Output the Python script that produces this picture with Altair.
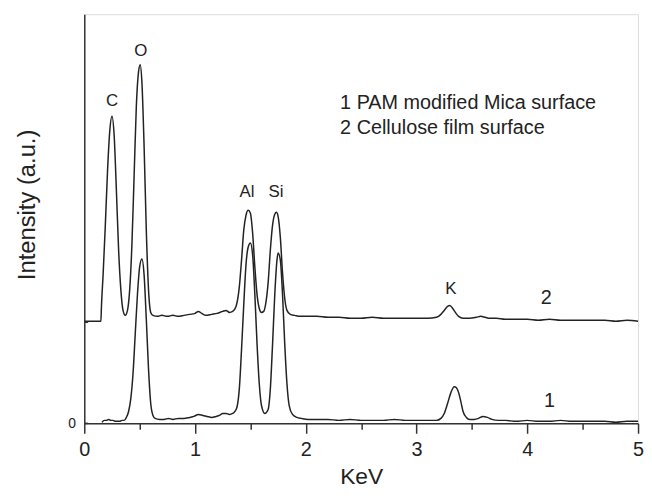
import altair as alt
import pandas as pd

# Spectrum 1: PAM modified Mica surface
kev1 = [0.16, 0.18, 0.20, 0.22, 0.24, 0.26, 0.28, 0.30, 0.32, 0.34, 0.36, 0.38,
        0.40, 0.42, 0.44, 0.46, 0.48, 0.50, 0.52, 0.54, 0.56, 0.58, 0.60, 0.62,
        0.64, 0.68, 0.72, 0.76, 0.80, 0.85, 0.90, 0.95, 0.99, 1.03, 1.07, 1.11,
        1.15, 1.19, 1.22, 1.25, 1.28, 1.31, 1.34, 1.36, 1.38, 1.40, 1.42, 1.44,
        1.46, 1.48, 1.50, 1.52, 1.54, 1.56, 1.58, 1.60, 1.63, 1.66, 1.68, 1.70,
        1.72, 1.74, 1.75, 1.77, 1.79, 1.81, 1.83, 1.85, 1.88, 1.92, 1.96, 2.02,
        2.10, 2.20, 2.30, 2.40, 2.50, 2.60, 2.70, 2.80, 2.90, 3.00, 3.10, 3.18,
        3.22, 3.25, 3.28, 3.31, 3.34, 3.36, 3.38, 3.40, 3.42, 3.45, 3.48, 3.52,
        3.56, 3.60, 3.64, 3.68, 3.74, 3.80, 3.90, 4.00, 4.10, 4.20, 4.30, 4.40,
        4.50, 4.60, 4.70, 4.80, 4.90, 5.00]
int1 = [1, 3, 3, 4, 3, 3, 2, 2, 2, 3, 3, 6,
        12, 25, 50, 90, 130, 158, 166, 150, 105, 55, 20, 8,
        5, 4, 4, 5, 4, 5, 5, 6, 7, 9, 8, 7,
        6, 7, 8, 10, 10, 9, 10, 12, 17, 35, 75, 120,
        160, 178, 182, 170, 130, 80, 40, 18, 10, 14, 35, 80,
        130, 165, 172, 165, 130, 80, 40, 18, 9, 6, 5, 4,
        4, 4, 3, 4, 3, 3, 3, 4, 3, 3, 3, 3,
        5, 10, 20, 31, 37, 36, 31, 22, 12, 6, 4, 4,
        5, 7, 6, 4, 3, 3, 2, 3, 2, 2, 3, 2,
        2, 2, 2, 1, 2, 2]

# Spectrum 2: Cellulose film surface (offset)
kev2 = [0.00, 0.05, 0.10, 0.15, 0.155, 0.17, 0.19, 0.21, 0.23, 0.25, 0.27, 0.29,
        0.31, 0.33, 0.35, 0.37, 0.39, 0.41, 0.43, 0.45, 0.47, 0.49, 0.505, 0.52,
        0.54, 0.56, 0.58, 0.60, 0.62, 0.66, 0.70, 0.75, 0.80, 0.85, 0.90, 0.95,
        1.00, 1.03, 1.06, 1.10, 1.15, 1.20, 1.25, 1.28, 1.31, 1.34, 1.37, 1.40,
        1.42, 1.44, 1.46, 1.48, 1.50, 1.52, 1.54, 1.56, 1.58, 1.60, 1.62, 1.64,
        1.66, 1.68, 1.70, 1.72, 1.735, 1.75, 1.77, 1.79, 1.81, 1.83, 1.86, 1.90,
        1.95, 2.00, 2.10, 2.20, 2.30, 2.40, 2.50, 2.60, 2.70, 2.80, 2.90, 3.00,
        3.10, 3.18, 3.22, 3.25, 3.28, 3.30, 3.32, 3.35, 3.38, 3.42, 3.48, 3.54,
        3.58, 3.62, 3.66, 3.72, 3.80, 3.90, 4.00, 4.10, 4.20, 4.30, 4.40, 4.50,
        4.60, 4.70, 4.80, 4.90, 5.00]
int2 = [103, 103, 103, 103, 118, 150, 200, 255, 295, 310, 290, 235,
        175, 135, 114, 109, 114, 135, 180, 250, 320, 355, 362, 345,
        280, 195, 135, 112, 109, 108, 109, 108, 109, 108, 109, 110,
        111, 113, 111, 109, 110, 111, 113, 114, 112, 113, 118, 138,
        165, 195, 210, 215, 212, 192, 158, 130, 116, 112, 113, 122,
        142, 175, 200, 211, 213, 209, 188, 152, 126, 114, 110, 109,
        108, 108, 108, 107, 107, 106, 106, 107, 106, 106, 106, 106,
        106, 107, 110, 114, 118, 119, 117, 112, 108, 106, 106, 107,
        108, 107, 106, 106, 105, 105, 105, 104, 105, 104, 104, 104,
        104, 104, 103, 104, 103]

peak_names = ["C", "O", "Al", "Si", "K"]
peak_kev = [0.25, 0.51, 1.47, 1.73, 3.31]
peak_label_y = [325, 376, 233, 233, 136]

curve_ids = ["2", "1"]
curve_kev = [4.17, 4.20]
curve_label_y = [126, 22]

legend_lines = ["1 PAM modified Mica surface", "2 Cellulose film surface"]
legend_kev = [2.31, 2.31]
legend_y = [323, 298]

inner_tick_vals = [0, 102]
x_tick_vals = [0, 0.5, 1, 1.5, 2, 2.5, 3, 3.5, 4, 4.5, 5]

FONT = "Liberation Sans"
INK = "#222222"

df = pd.concat([
    pd.DataFrame({"kev": kev1, "intensity": int1, "series": "1"}),
    pd.DataFrame({"kev": kev2, "intensity": int2, "series": "2"}),
])

xscale = alt.Scale(domain=[0, 5], nice=False)
yscale = alt.Scale(domain=[0, 413], nice=False)

xaxis = alt.Axis(
    title="KeV", values=x_tick_vals,
    labelExpr="datum.value % 1 === 0 ? '' + datum.value : ''",
    labelFlush=False, labelOverlap=False,
    tickSize={"condition": {"test": "datum.value % 1 === 0", "value": 10}, "value": 6},
    tickColor="#333", tickWidth=1.5, domainColor="#333", domainWidth=1.5,
    labelFont=FONT, labelFontSize=20, labelColor=INK, labelPadding=6,
    titleFont=FONT, titleFontSize=23, titleFontWeight="normal", titleColor=INK,
    titleY=61, titleBaseline="alphabetic", grid=False,
)
yaxis = alt.Axis(
    title="Intensity (a.u.)", values=[0], tickSize=0, labelPadding=9,
    labelFont=FONT, labelFontSize=14, labelColor=INK,
    domainColor="#333", domainWidth=1.5,
    titleFont=FONT, titleFontSize=24, titleFontWeight="normal", titleColor=INK,
    titleAngle=-90, titleX=-57, titleY=192, titleAlign="center", titleBaseline="middle",
    grid=False,
)

lines = alt.Chart(df).mark_line(color="#222", strokeWidth=1.5, interpolate="monotone").encode(
    x=alt.X("kev:Q", scale=xscale, axis=xaxis),
    y=alt.Y("intensity:Q", scale=yscale, axis=yaxis),
    detail="series:N",
)

ticks_df = pd.DataFrame({"y": inner_tick_vals, "x0": [0] * len(inner_tick_vals),
                         "x1": [0.035] * len(inner_tick_vals)})
inner_ticks = alt.Chart(ticks_df).mark_rule(color="#333", strokeWidth=1.5).encode(
    x="x0:Q", x2="x1:Q", y="y:Q")

peaks_df = pd.DataFrame({"name": peak_names, "kev": peak_kev, "y": peak_label_y})
peak_text = alt.Chart(peaks_df).mark_text(font=FONT, fontSize=17, color=INK, baseline="middle").encode(
    x="kev:Q", y="y:Q", text="name:N")

ids_df = pd.DataFrame({"name": curve_ids, "kev": curve_kev, "y": curve_label_y})
id_text = alt.Chart(ids_df).mark_text(font=FONT, fontSize=20, color=INK, baseline="middle").encode(
    x="kev:Q", y="y:Q", text="name:N")

leg_df = pd.DataFrame({"name": legend_lines, "kev": legend_kev, "y": legend_y})
leg_text = alt.Chart(leg_df).mark_text(font=FONT, fontSize=20, color=INK, baseline="middle",
                                       align="left").encode(
    x="kev:Q", y="y:Q", text="name:N")

chart = alt.layer(lines, inner_ticks, peak_text, id_text, leg_text).properties(
    width=559, height=413,
    autosize=alt.AutoSizeParams(type="none"),
    padding={"left": 77, "top": 4, "right": 6, "bottom": 63},
).configure_view(stroke="#333", strokeWidth=1.5).configure(background="white")

chart.save("out.html", embed_options={"renderer": "svg", "actions": False})
